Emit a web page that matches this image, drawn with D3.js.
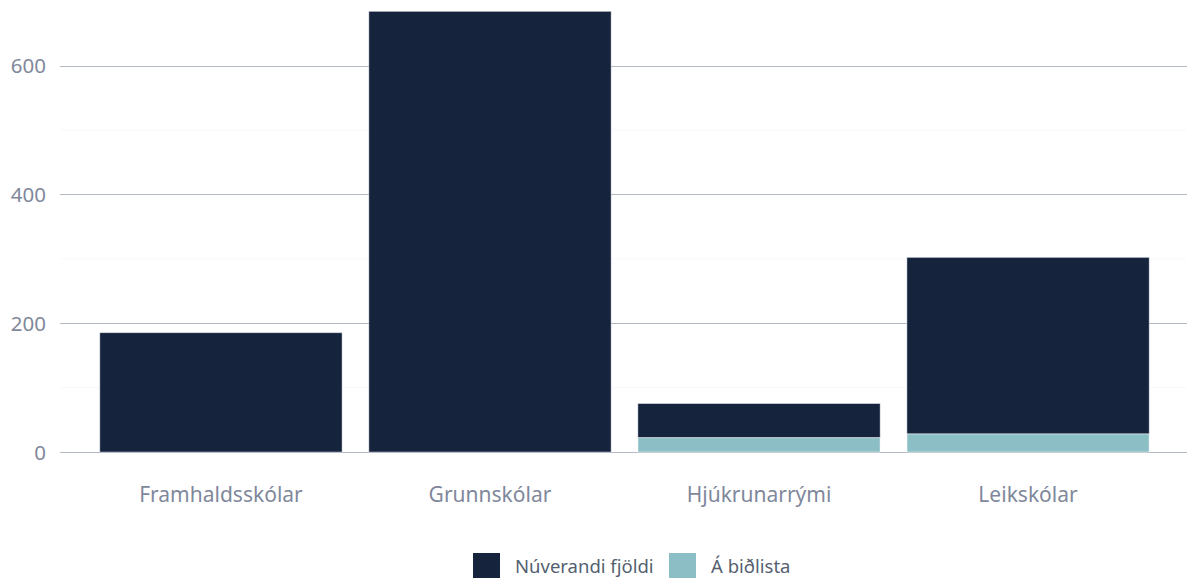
<!DOCTYPE html>
<html><head><meta charset="utf-8">
<script src="https://cdn.jsdelivr.net/npm/d3@7"></script>
<style>
html,body{margin:0;padding:0;background:#fff;}
svg{display:block;font-family:"Noto Sans",sans-serif;}
</style></head>
<body><svg id="c" width="1187" height="578"></svg>
<script>
const categories = ["Framhaldsskólar","Grunnskólar","Hjúkrunarrými","Leikskólar"];
const waitlist = [0, 0, 22, 28];
const current = [185, 684, 53, 274];
const seriesNames = ["Núverandi fjöldi","Á biðlista"];
const yTicks = [0,200,400,600];
const yMinor = [100,300,500];

const svg = d3.select("#c");
const colors = {current:"#15233d", wait:"#8cbfc5"};
const x = d3.scaleBand().domain(categories).range([73,1176]).paddingInner(0.1).paddingOuter(0.1);
const y = d3.scaleLinear().domain([0,600]).range([452,65.5]);

// minor grid
svg.append("g").selectAll("line").data(yMinor).join("line")
  .attr("x1",60).attr("x2",1187).attr("y1",d=>y(d)).attr("y2",d=>y(d))
  .attr("stroke","#f8f8f9").attr("stroke-width",1);
// major grid
svg.append("g").selectAll("line").data(yTicks).join("line")
  .attr("x1",60).attr("x2",1187).attr("y1",d=>Math.round(y(d))+0.5).attr("y2",d=>Math.round(y(d))+0.5)
  .attr("stroke","#b3bac6").attr("stroke-width",1);

const yAxis = d3.axisLeft(y).tickValues(yTicks).tickSize(0).tickPadding(0);
const ga = svg.append("g").attr("transform","translate(46,0)").call(yAxis);
ga.select(".domain").remove();
ga.selectAll("text").attr("fill","#7f889b").attr("font-size",20.5).attr("font-family","Noto Sans").attr("dy","0.35em");

const data = categories.map((c,i)=>({c, w:waitlist[i], n:current[i]}));
// current (top)
svg.append("g").selectAll("rect").data(data).join("rect")
  .attr("x",d=>x(d.c)).attr("width",x.bandwidth())
  .attr("y",d=>y(d.w+d.n)).attr("height",d=>y(d.w)-y(d.w+d.n))
  .attr("fill",colors.current).attr("stroke","#c9ced6").attr("stroke-width",0.5);
// waitlist (bottom)
svg.append("g").selectAll("rect").data(data.filter(d=>d.w>0)).join("rect")
  .attr("x",d=>x(d.c)).attr("width",x.bandwidth())
  .attr("y",d=>y(d.w)).attr("height",d=>y(0)-y(d.w))
  .attr("fill",colors.wait).attr("stroke","#ffffff").attr("stroke-width",0.5);

const xAxis = d3.axisBottom(x).tickSize(0).tickPadding(0);
const gx = svg.append("g").attr("transform","translate(0,495)").call(xAxis);
gx.select(".domain").remove();
gx.selectAll("text").attr("fill","#7f889b").attr("font-size",21).attr("font-family","Noto Sans").attr("dy","0.35em");

// legend
const legend = [{name:seriesNames[0],col:colors.current,x:473},{name:seriesNames[1],col:colors.wait,x:669}];
const lg = svg.append("g").selectAll("g").data(legend).join("g").attr("transform",d=>`translate(${d.x},553)`);
lg.append("rect").attr("width",27).attr("height",27).attr("fill",d=>d.col);
lg.append("text").attr("x",42).attr("y",20).attr("font-size",18.5).attr("fill","#555f70").attr("font-family","Noto Sans").text(d=>d.name);
</script></body></html>
